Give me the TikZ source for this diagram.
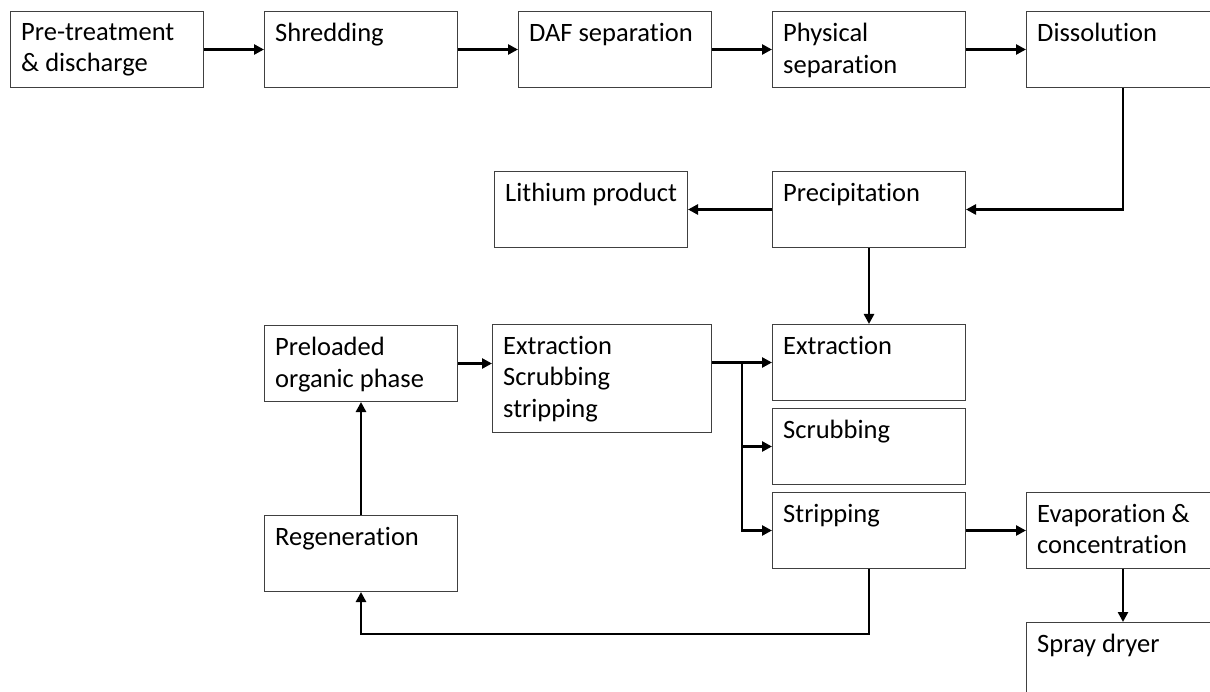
\documentclass[tikz,border=0pt]{standalone}
\usepackage{fontspec}
\setmainfont{Carlito}[Ligatures=NoCommon]
\usetikzlibrary{arrows.meta,positioning}

\begin{document}
\begin{tikzpicture}[node distance=60pt, box/.style={draw=black!75,line width=1pt,minimum width=193pt,minimum height=76pt,inner sep=0pt}, txt/.style={anchor=north west,align=left,inner xsep=11pt,inner ysep=12pt,font=\fontsize{26.5}{31.5}\selectfont}, flow/.style={line width=2.8pt,-{Triangle[length=10pt,width=10pt]}}]
\useasboundingbox (0,0) rectangle (1210pt,-692pt);
\clip (0,0) rectangle (1210pt,-692pt);
\node[box,anchor=north west,label={[txt]north west:Pre-treatment\\\& discharge}] (pre) at (10pt,-11pt) {};
\node[box,right=of pre,label={[txt]north west:Shredding}] (shred) {};
\node[box,right=of shred,label={[txt]north west:DAF separation}] (daf) {};
\node[box,right=of daf,label={[txt]north west:Physical\\separation}] (phys) {};
\node[box,right=of phys,label={[txt]north west:Dissolution}] (diss) {};
\node[box,below=83pt of phys,label={[txt]north west:Precipitation}] (prec) {};
\node[box,left=84pt of prec,label={[txt]north west:Lithium product}] (lith) {};
\node[box,below=76pt of prec,label={[txt]north west:Extraction}] (extr) {};
\node[box,below=7pt of extr,label={[txt]north west:Scrubbing}] (scrub) {};
\node[box,below=7pt of scrub,label={[txt]north west:Stripping}] (strip) {};
\node[box,minimum width=219pt,minimum height=108pt,left=60pt of extr.north west,anchor=north east,label={[txt]north west:Extraction\\Scrubbing\\stripping}] (ess) {};
\node[box,left=34pt of ess.north west,anchor=north east,yshift=-1pt,label={[txt]north west:Preloaded\\organic phase}] (pol) {};
\node[box,below=113pt of pol,label={[txt]north west:Regeneration}] (regen) {};
\node[box,right=of strip,label={[txt]north west:Evaporation \&\\concentration}] (evap) {};
\node[box,below=53pt of evap,label={[txt]north west:Spray dryer}] (spray) {};
\coordinate[xshift=30pt] (br) at (ess.east|-extr.west);
\draw[flow] (pre) -- (shred);
\draw[flow] (shred) -- (daf);
\draw[flow] (daf) -- (phys);
\draw[flow] (phys) -- (diss);
\draw[flow] (diss.south) |- (prec.east);
\draw[flow] (prec) -- (lith);
\draw[flow] (prec) -- (extr);
\draw[flow] (pol.east) -- (pol.east-|ess.west);
\draw[flow] (ess.east|-extr.west) -- (extr.west);
\draw[flow] (br) |- (scrub.west);
\draw[flow] (br) |- (strip.west);
\draw[flow] (strip) -- (evap);
\draw[flow] (evap) -- (spray);
\draw[flow] (strip.south) -- ++(0,-65pt) -| (regen.south);
\draw[flow] (regen) -- (pol);
\end{tikzpicture}
\end{document}
